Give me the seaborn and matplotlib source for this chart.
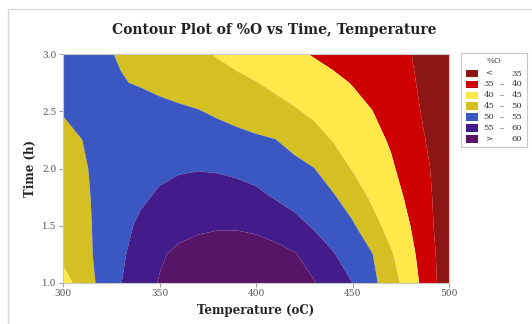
import numpy as np
import matplotlib
matplotlib.use("Agg")
import matplotlib.pyplot as plt
import seaborn as sns
from matplotlib.patches import Rectangle

# ---- data ----
temperature = [300, 310, 320, 330, 340, 350, 360, 370, 380, 390, 400,
               410, 420, 430, 440, 450, 460, 470, 480, 490, 500]
time_h = [1.0, 1.25, 1.5, 1.75, 2.0, 2.25, 2.5, 2.75, 3.0]

pct_o_t100 = [42.8, 47.2, 51.3, 54.9, 57.65, 60.3, 62.0, 63.3, 64.1, 64.4, 64.1,
              63.2, 61.8, 60.3, 57.8, 55.0, 51.3, 47.1, 42.4, 37.1, 31.5]
pct_o_t125 = [46.3, 48.6, 51.2, 54.3, 56.9, 59.4, 61.0, 62.0, 62.5, 62.6, 62.3,
              61.5, 60.3, 57.9, 55.3, 52.75, 50.25, 45.5, 41.25, 36.6, 31.5]
pct_o_t150 = [47.3, 49.0, 51.0, 53.6, 55.8, 57.3, 58.4, 59.1, 59.5, 59.5, 59.0,
              58.0, 56.5, 54.5, 52.5, 50.6, 46.8, 43.1, 40.0, 36.0, 31.0]
pct_o_t175 = [48.2, 49.4, 50.8, 52.5, 54.3, 55.6, 56.4, 56.9, 57.0, 56.7, 56.0,
              54.7, 53.3, 51.9, 50.5, 47.6, 44.3, 41.8, 39.0, 35.6, 31.0]
pct_o_t200 = [48.9, 49.6, 50.9, 52.3, 53.4, 54.1, 54.6, 54.8, 54.6, 54.1, 53.4,
              52.5, 51.4, 50.1, 47.4, 44.7, 42.6, 40.6, 37.9, 35.1, 30.5]
pct_o_t225 = [49.5, 50.0, 51.2, 52.1, 52.6, 52.8, 52.8, 52.5, 52.0, 51.4, 50.7,
              50.1, 48.4, 46.6, 44.8, 43.1, 41.4, 39.5, 37.1, 34.4, 30.0]
pct_o_t250 = [50.1, 50.9, 51.4, 51.6, 51.5, 51.2, 50.7, 50.2, 49.3, 48.3, 47.4,
              46.4, 45.4, 44.2, 42.8, 41.4, 40.1, 38.2, 36.3, 33.8, 30.0]
pct_o_t275 = [51.3, 51.0, 50.6, 50.2, 49.7, 48.9, 48.2, 47.4, 46.6, 45.9, 45.1,
              44.1, 43.0, 42.0, 40.9, 39.8, 38.4, 37.1, 35.7, 33.3, 30.0]
pct_o_t300 = [52.0, 51.3, 50.5, 49.7, 48.7, 47.7, 46.7, 45.7, 44.7, 43.7, 42.7,
              41.7, 40.7, 39.7, 38.8, 37.9, 36.9, 36.0, 35.1, 33.5, 31.5]

level_bounds = [0, 35, 40, 45, 50, 55, 60, 100]
level_labels = [("<", "", "35"), ("35", "\u2013", "40"), ("40", "\u2013", "45"),
                ("45", "\u2013", "50"), ("50", "\u2013", "55"), ("55", "\u2013", "60"),
                (">", "", "60")]
level_colors = ["#8c1515", "#cf0000", "#ffe94a", "#d4c023", "#3b57c2",
                "#431b8b", "#581568"]

x_ticks = [300, 350, 400, 450, 500]
y_ticks = [1.0, 1.5, 2.0, 2.5, 3.0]

# ---- figure ----
sns.set_theme(style="white")
plt.rcParams["font.family"] = ["DejaVu Serif"]

fig = plt.figure(figsize=(5.32, 3.24), dpi=100)
fig.patches.append(Rectangle((8 / 532, -0.1), 1.2, 1.1 - 9 / 324,
                             transform=fig.transFigure, fill=False,
                             edgecolor="#d9d9d9", linewidth=1.0))

ax = fig.add_axes([63 / 532, 1 - 283 / 324, 386 / 532, 229 / 324])

Z = np.array([pct_o_t100, pct_o_t125, pct_o_t150, pct_o_t175, pct_o_t200,
              pct_o_t225, pct_o_t250, pct_o_t275, pct_o_t300])
X, Y = np.meshgrid(temperature, time_h)
ax.contourf(X, Y, Z, levels=level_bounds, colors=level_colors, antialiased=True)

ax.set_xlim(300, 500)
ax.set_ylim(1.0, 3.0)
ax.set_xticks(x_ticks)
ax.set_yticks(y_ticks)
ax.set_xticklabels([str(v) for v in x_ticks])
ax.set_yticklabels([f"{v:.1f}" for v in y_ticks])
ax.tick_params(axis="both", which="both", direction="out", length=3, width=0.6,
               colors="#8a8a8a", labelcolor="#555555", labelsize=6.5, pad=1.5,
               left=True, bottom=True)
for s in ax.spines.values():
    s.set_color("#c8c8c8")
    s.set_linewidth(0.8)

ax.set_xlabel("Temperature (oC)", fontsize=8.5, fontweight="bold", color="#222222",
              labelpad=4)
ax.set_ylabel("Time (h)", fontsize=8.5, fontweight="bold", color="#222222",
              labelpad=4)

fig.text(274.5 / 532, 1 - 30 / 324, "Contour Plot of %O vs Time, Temperature",
         ha="center", va="center", fontsize=10, fontweight="bold",
         color="#222222")

# ---- legend ----
lax = fig.add_axes([461 / 532, 1 - 147 / 324, 66 / 532, 94 / 324])
lax.set_xlim(0, 66)
lax.set_ylim(94, 0)
lax.set_xticks([])
lax.set_yticks([])
for s in lax.spines.values():
    s.set_color("#c8c8c8")
    s.set_linewidth(0.8)
lax.text(33, 8, "%O", ha="center", va="center", fontsize=6, color="#333333")
for i, ((a, dash, b), col) in enumerate(zip(level_labels, level_colors)):
    yc = 20.5 + i * 10.9
    lax.add_patch(Rectangle((5, yc - 3.8), 11.5, 7.6, facecolor=col,
                            edgecolor="none"))
    lax.text(28, yc, a, ha="center", va="center", fontsize=6, color="#333333")
    lax.text(41, yc, dash, ha="center", va="center", fontsize=6, color="#333333")
    lax.text(56, yc, b, ha="center", va="center", fontsize=6, color="#333333")

fig.savefig("out.png", dpi=100)
